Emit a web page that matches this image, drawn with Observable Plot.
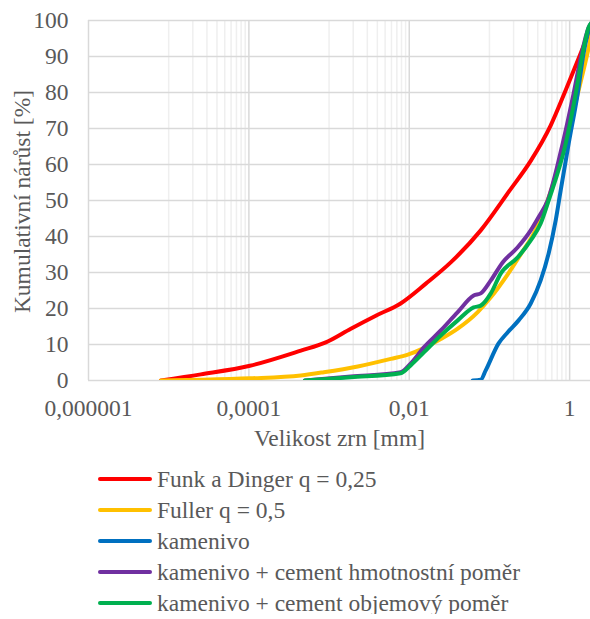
<!DOCTYPE html>
<html>
<head>
<meta charset="utf-8">
<script src="https://cdn.jsdelivr.net/npm/d3@7"></script>
<script src="https://cdn.jsdelivr.net/npm/@observablehq/plot@0.6"></script>
<style>
  body { margin: 0; background: #fff; font-family: "Liberation Serif", "Times New Roman", Times, Tinos, "DejaVu Serif", serif; color: #595959; }
  #legend { font-size: 23.5px; margin-top: -1px; }
  .row { height: 22px; line-height: 22px; margin-top: 9px; display: flex; align-items: center; white-space: nowrap; }
  .sw { width: 54px; height: 4px; border-radius: 2px; margin-left: 98px; margin-right: 5px; flex: none; }
  svg text { font-family: "Liberation Serif", "Times New Roman", Times, Tinos, "DejaVu Serif", serif; }
</style>
</head>
<body>
<div id="chart"></div>
<div id="legend"></div>
<script>
// Series names and colours
const seriesNames = [
  "Funk a Dinger q = 0,25",
  "Fuller q = 0,5",
  "kamenivo",
  "kamenivo + cement hmotnostní poměr",
  "kamenivo + cement objemový poměr"
];
const seriesColors = ["#ff0000", "#ffc000", "#0070c0", "#7030a0", "#00b050"];

// Grain sizes [mm] and cumulative passing [%]
const funkSize = [8.0e-6, 2.52e-5, 1.03e-4, 4.45e-4, 9.1e-4, 1.87e-3, 3.83e-3, 7.8e-3, 0.0161, 0.0329, 0.0778, 0.179, 0.327, 0.579, 0.892, 1.37, 2.0];
const funkPct  = [0, 1.7, 4.1, 8.3, 10.6, 14.4, 18.0, 21.4, 26.9, 32.8, 41.7, 52.8, 61.0, 70.8, 80.6, 90.8, 100];

const fullerSize = [8.0e-6, 2.52e-5, 1.03e-4, 4.45e-4, 8.6e-4, 2.28e-3, 5.88e-3, 9.6e-3, 0.0152, 0.0247, 0.0402, 0.0714, 0.104, 0.169, 0.245, 0.399, 0.532, 0.818, 1.12, 1.41, 1.77, 2.0];
const fullerPct  = [0, 0.2, 0.6, 1.4, 2.3, 3.9, 6.0, 7.2, 9.0, 11.5, 14.4, 19.0, 23.1, 29.5, 35.0, 43.0, 50.0, 63.5, 75.0, 84.0, 93.6, 100];

const kamSize = [0.0618, 0.0778, 0.0898, 0.130, 0.169, 0.231, 0.327, 0.435, 0.547, 0.669, 0.773, 0.972, 1.26, 1.49, 1.77, 2.0];
const kamPct  = [0, 0.2, 2.8, 10.3, 13.4, 16.7, 21.4, 27.8, 35.3, 44.4, 52.8, 65.8, 79.7, 90.8, 98.0, 100];

const hmotSize = [4.99e-4, 1.87e-3, 7.8e-3, 0.0104, 0.0152, 0.0247, 0.0402, 0.0636, 0.0778, 0.104, 0.146, 0.225, 0.327, 0.411, 0.532, 0.818, 1.12, 1.41, 1.72, 2.0];
const hmotPct  = [0, 1.1, 2.3, 4.7, 9.2, 13.9, 19.0, 23.6, 24.2, 27.8, 32.8, 37.0, 41.7, 45.4, 50.0, 65.8, 79.7, 90.8, 98.0, 100];

const objSize = [4.99e-4, 1.87e-3, 7.8e-3, 0.0104, 0.0152, 0.0247, 0.0402, 0.0636, 0.0778, 0.104, 0.138, 0.225, 0.327, 0.435, 0.547, 0.892, 1.19, 1.45, 1.72, 2.0];
const objPct  = [0, 0.9, 2.0, 4.2, 7.8, 12.5, 16.7, 20.3, 20.8, 24.2, 29.7, 34.2, 38.9, 43.6, 50.0, 65.8, 79.7, 90.8, 98.0, 100];

// Axis ticks
const majorTicks = [1e-6, 1e-4, 1e-2, 1];
const majorLabels = ["0,000001", "0,0001", "0,01", "1"];
const minorDecades = [1e-5, 1e-3, 1e-1];
const minorSteps = [1, 2, 3, 4, 5, 6, 7, 8, 9];
const yTicks = [0, 10, 20, 30, 40, 50, 60, 70, 80, 90, 100];

const sizes = [funkSize, fullerSize, kamSize, hmotSize, objSize];
const pcts = [funkPct, fullerPct, kamPct, hmotPct, objPct];
const data = [];
seriesNames.forEach((name, i) => {
  sizes[i].forEach((s, j) => data.push({series: name, size: s, pct: pcts[i][j]}));
});
const minorTicks = [];
minorDecades.forEach(d => minorSteps.forEach(k => minorTicks.push(d * k)));
const labelOf = d => {
  const k = majorTicks.findIndex(t => Math.abs(Math.log10(t) - Math.log10(d)) < 1e-6);
  return k >= 0 ? majorLabels[k] : "";
};

const FONT = "Liberation Serif, Times New Roman, Times, Tinos, DejaVu Serif, serif";
const chart = Plot.plot({
  width: 590,
  height: 460,
  marginLeft: 88,
  marginRight: 0,
  marginTop: 20,
  marginBottom: 80,
  style: {fontFamily: FONT, fontSize: "23.5px", color: "#595959", background: "white", overflow: "visible"},
  x: {type: "log", domain: [1e-6, 1.82]},
  y: {domain: [0, 100]},
  color: {domain: seriesNames, range: seriesColors},
  marks: [
    Plot.ruleX(minorTicks, {stroke: "#efefef", strokeWidth: 1.5}),
    Plot.ruleX(majorTicks, {stroke: "#d9d9d9", strokeWidth: 1.5}),
    Plot.ruleY(yTicks, {stroke: "#d9d9d9", strokeWidth: 1.5}),
    Plot.line(data, {x: "size", y: "pct", z: "series", stroke: "series", strokeWidth: 4, curve: "monotone-x", clip: true, strokeLinejoin: "round", strokeLinecap: "round"}),
    Plot.axisY({ticks: yTicks, tickSize: 0, tickPadding: 20, label: null, fill: "#595959"}),
    Plot.axisX({ticks: majorTicks, tickFormat: labelOf, tickSize: 0, tickPadding: 19, label: null, fill: "#595959"}),
    Plot.text(["Kumulativní nárůst [%]"], {frameAnchor: "left", dx: -66, dy: 1, rotate: -90, textAnchor: "middle", fill: "#595959", fontSize: 23.5}),
    Plot.text(["Velikost zrn [mm]"], {frameAnchor: "bottom", dy: 65, textAnchor: "middle", fill: "#595959", fontSize: 23.5})
  ]
});
document.getElementById("chart").appendChild(chart);

const legend = document.getElementById("legend");
seriesNames.forEach((name, i) => {
  const row = document.createElement("div");
  row.className = "row";
  const sw = document.createElement("span");
  sw.className = "sw";
  sw.style.background = seriesColors[i];
  const t = document.createElement("span");
  t.textContent = name;
  row.appendChild(sw);
  row.appendChild(t);
  legend.appendChild(row);
});
</script>
</body>
</html>
